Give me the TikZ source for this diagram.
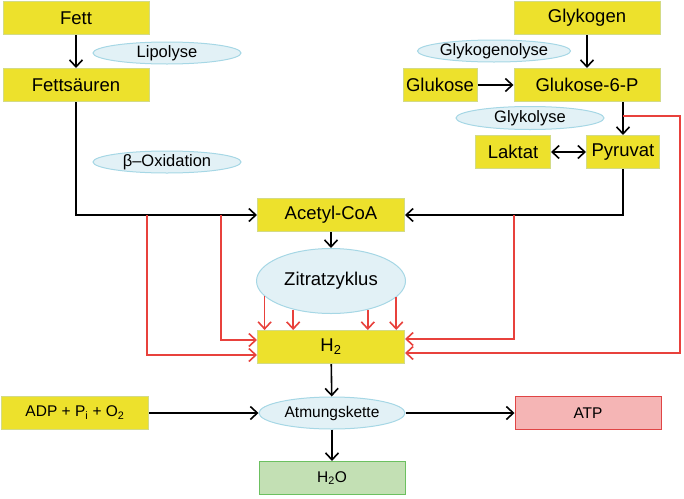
\documentclass[tikz,border=0pt]{standalone}
\usepackage{fontspec}
\setmainfont{Liberation Sans}
\usetikzlibrary{shapes.geometric,arrows.meta}
\definecolor{yfill}{HTML}{EDE12C}
\definecolor{yborder}{HTML}{D3DB86}
\definecolor{efill}{HTML}{E2F1F6}
\definecolor{eborder}{HTML}{A6D7E5}
\definecolor{pfill}{HTML}{F5B5B5}
\definecolor{pborder}{HTML}{E04545}
\definecolor{gfill}{HTML}{C3E0B4}
\definecolor{gborder}{HTML}{6CC060}
\definecolor{redline}{HTML}{E8413C}
\begin{document}
\begin{tikzpicture}[x=1pt,y=-1pt,
  ybox/.style={draw=yborder, fill=yfill, line width=1pt, minimum width=146pt, minimum height=33pt, inner sep=0pt, font=\fontsize{18.5}{21}\selectfont},
  small/.style={font=\fontsize{15.5}{18}\selectfont},
  ell/.style={ellipse, draw=eborder, fill=efill, line width=1pt, minimum width=148pt, minimum height=22pt, inner sep=0pt, font=\fontsize{16.5}{19}\selectfont},
  tip/.style={Straight Barb[length=7pt,width=13pt,line width=1.6pt]},
  blk/.style={draw=black, line width=1.6pt, -{Straight Barb[length=7pt,width=13pt]}},
  red/.style={draw=redline, line width=1.6pt, -{Straight Barb[length=7pt,width=13pt]}}
]
\useasboundingbox (0,0) rectangle (684,498);

% nodes
\node[ybox] (fett) at (76,18) {Fett};
\node[ybox] (fs) at (76,85) {Fettsäuren};
\node[ell] (lipo) at (167,53) {Lipolyse};
\node[ell] (beta) at (167,162) {β–Oxidation};
\node[ybox] (glykogen) at (587,18) {Glykogen};
\node[ell] (glykogenolyse) at (494,51) {Glykogenolyse};
\node[ybox, minimum width=74pt] (glukose) at (440,85) {Glukose};
\node[ybox] (g6p) at (587,85) {Glukose-6-P};
\node[ell, minimum height=23pt] (glykolyse) at (530,118) {Glykolyse};
\node[ybox, minimum width=75pt] (laktat) at (513,152) {Laktat};
\node[ybox, minimum width=73pt] (pyruvat) at (623,152) {Pyruvat};
\node[ybox, minimum width=147pt] (acetyl) at (331,215) {Acetyl-CoA};
\node[ell, minimum width=149pt, minimum height=65pt, font=\fontsize{18.5}{21}\selectfont] (zitrat) at (331,281) {Zitratzyklus};
\node[ybox, minimum width=147pt] (h2) at (331,347) {H\textsubscript{2}};
\node[ell, minimum width=146pt, minimum height=32pt, font=\fontsize{15.5}{18}\selectfont] (atm) at (332,413) {Atmungskette};
\node[ybox, small, minimum width=147pt] (adp) at (75,413) {ADP + P\textsubscript{i} + O\textsubscript{2}};
\node[ybox, small, draw=pborder, fill=pfill] (atp) at (588,413) {ATP};
\node[ybox, small, draw=gborder, fill=gfill] (h2o) at (332,478) {H\textsubscript{2}O};

% junction coordinates
\coordinate (fsdown) at (fs.south |- acetyl.west);
\coordinate (jl1) at (147,215);
\coordinate (jl2) at (221,215);
\coordinate (jr1) at (514,215);
\coordinate (jg) at (623,116);
\coordinate (jgr) at (680,116);
\coordinate (jgrd) at (680,353);

% black connectors
\draw[blk] (fett) -- (fs);
\draw[blk] (glykogen) -- (g6p);
\draw[blk] (glukose) -- (g6p);
\draw[blk] (pyruvat.north |- g6p.south) -- (pyruvat.north);
\draw[draw=black, line width=1.6pt, {Straight Barb[length=7pt,width=13pt]}-{Straight Barb[length=7pt,width=13pt]}] (laktat) -- (pyruvat);
\draw[blk] (fs.south) -- (fsdown) -- (acetyl.west);
\draw[blk] (pyruvat.south) |- (acetyl.east);
\draw[blk] (acetyl) -- (zitrat);
\draw[blk] (h2) -- (atm);
\draw[blk] (adp) -- (atm);
\draw[blk] (atm) -- (atp);
\draw[blk] (atm) -- (h2o);

% red connectors
\draw[red] (jl1) -- (jl1 |- 0,355) -- (h2.west |- 0,355);
\draw[red] (jl2) -- (jl2 |- 0,340) -- (h2.west |- 0,340);
\draw[red] (jr1) -- (jr1 |- 0,339) -- (h2.east |- 0,339);
\draw[red] (jg) -- (jgr) -- (jgrd) -- (h2.east |- jgrd);
\foreach \a in {193.7,217.5,322.5,346.3}{
  \draw[red] (zitrat.\a) -- (zitrat.\a |- h2.north);
}
\end{tikzpicture}
\end{document}
